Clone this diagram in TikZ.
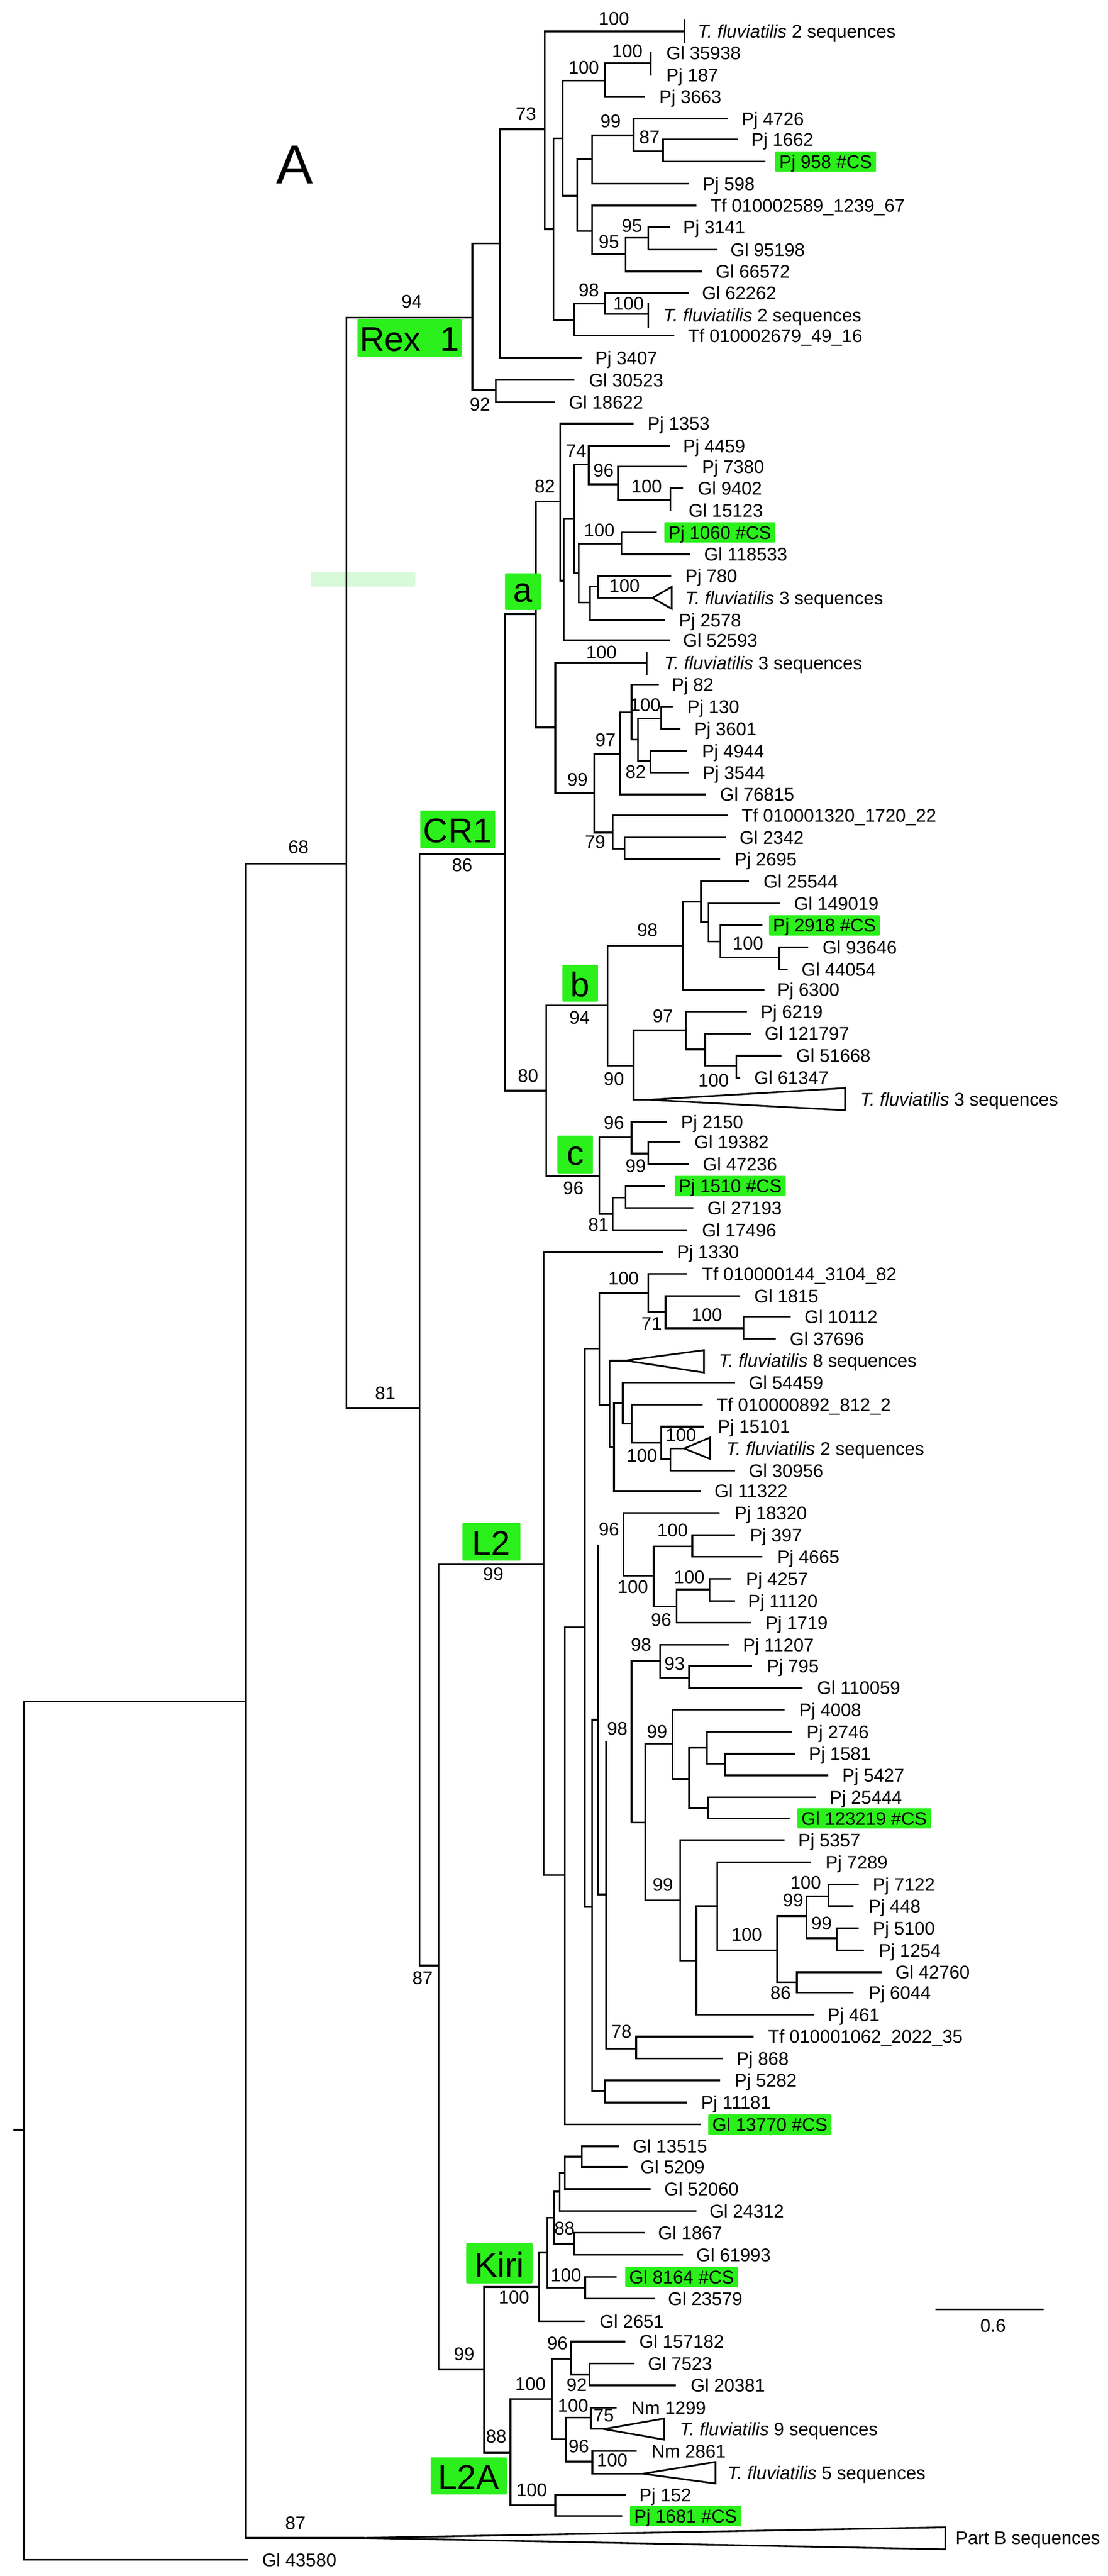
\documentclass[tikz,border=0pt]{standalone}
\usepackage{fontspec}
\setmainfont{Liberation Sans}
\definecolor{csgreen}{RGB}{43,240,27}
\definecolor{faint}{RGB}{216,250,216}
\newcommand{\tf}[1]{\textit{T. fluviatilis} #1 sequences}
\begin{document}
\begin{tikzpicture}[x=0.1cm,y=-0.1cm,
  br/.style={line width=3pt,line cap=rect},
  lf/.style={anchor=west,inner sep=0pt,text height=23pt,text depth=0pt,font=\fontsize{32}{38}\selectfont},
  bs/.style={inner sep=0pt,font=\fontsize{32}{38}\selectfont},
  cs/.style={lf,fill=csgreen,inner xsep=0.25cm,inner ysep=0.22cm,rounded corners=2pt},
  big/.style={font=\fontsize{60}{70}\selectfont},
  Z/.style={shift={(279.2,#1)},xscale=0.257,yscale=0.1285}]
\useasboundingbox (0,0) rectangle (680,1581);
% title and faint bar
\node[font=\fontsize{96}{110}\selectfont] at (180.8,101) {A};
\fill[faint,rounded corners=2pt] (191,351) rectangle (255,360);
% left part
\draw[br] (14.7,1044.2)--(14.7,1571) (8.8,1307.2)--(14.7,1307.2) (14.7,1044.2)--(150.6,1044.2) (14.7,1571)--(151.6,1571);
\node[lf] at (160.8,1571) {Gl 43580};
\draw[br] (150.6,530)--(150.6,1557.6) (150.6,530)--(212.6,530) (150.6,1557.6)--(222.9,1557.6);
\draw[br,line join=miter] (222.9,1557.6)--(580.3,1551.1)--(580.3,1564.6)--cycle;
\node[lf] at (586.5,1557.6) {Part B sequences};
\node[bs] at (181.4,1548.4) {87};
\draw[br] (212.6,195)--(212.6,864.3) (212.6,195)--(290,195) (290,149.4)--(290,239.4) (290,149.4)--(307,149.4);
\draw[br] (212.6,864.3)--(257.6,864.3) (257.6,524)--(257.6,1206.3) (257.6,524)--(310,524) (310,376.9)--(310,669.4) (310,376.9)--(328.8,376.9) (310,669.4)--(335.2,669.4);
\draw[br] (328.8,307.8)--(328.8,446.5);
\draw[br] (257.6,1206.3)--(269.3,1206.3) (269.3,960.2)--(269.3,1454.3) (269.3,960.2)--(333.7,960.2) (269.3,1454.3)--(297.2,1454.3) (297.2,1403.6)--(297.2,1505.4) (297.2,1505.4)--(313.3,1505.4) (313.3,1472.4)--(313.3,1537.6);
\node[bs] at (252.8,185) {94};
\node[bs] at (183.2,520) {68};
\node[bs] at (283.7,531) {86};
\node[bs] at (236.5,855.1) {81};
\node[bs] at (259.4,1214) {87};
\node[bs] at (302.8,966.1) {99};
% clade boxes
\foreach \a/\b/\c/\d/\t in {219.4/196/283.3/219/Rex\ \ 1, 258/497.5/304/520.6/CR1, 310/351.8/332/374.3/a, 345.2/592.1/367.1/614.8/b, 342.2/697/364/720.2/c, 283.8/934.6/319.5/957.8/L2, 286.2/1376.7/326.9/1401.4/Kiri, 264.4/1508.1/311.1/1530.9/L2A}
  {\fill[csgreen,rounded corners=2pt] (\a,\b) rectangle (\c,\d);
   \node[big] at ({(\a+\c)/2},{(\b+\d)/2+0.8}) {\t};}
% L2 long verticals
\draw[br] (333.7,768.4)--(333.7,1150.9) (333.7,1150.9)--(346.8,1150.9) (346.8,998.6)--(346.8,1303.9) (346.8,998.6)--(358.9,998.6)
  (358.9,827.7)--(358.9,1170.2) (358.9,827.7)--(367.9,827.7) (358.9,1170.2)--(363.5,1170.2) (363.5,1055.5)--(363.5,1283.4) (363.5,1055.5)--(367.1,1055.5)
  (367.1,948.5)--(367.1,1162.7) (367.1,1162.7)--(372.2,1162.7) (372.2,1069)--(372.2,1257.3);
% ---------- Z1
\begin{scope}[Z=0]
\draw[br] (108,618)--(215,618) (215,150)--(215,1095) (215,150)--(548,150) (548,98)--(548,200)
 (108,618)--(108,1710) (215,1095)--(236,1095) (236,660)--(236,1528) (236,660)--(258,660) (236,1528)--(285,1528)
 (258,385)--(258,935) (258,385)--(358,385) (358,302)--(358,463) (358,302)--(468,302) (468,252)--(468,358) (358,463)--(452,463)
 (258,935)--(292,935) (292,760)--(292,1103) (292,760)--(328,760) (328,647)--(328,877) (328,647)--(427,647) (427,568)--(427,722) (427,568)--(650,568) (427,722)--(497,722) (497,666)--(497,772) (497,666)--(673,666) (497,772)--(740,772) (328,877)--(557,877)
 (292,1103)--(328,1103) (328,982)--(328,1213) (328,982)--(575,982) (328,1213)--(408,1213) (408,1135)--(408,1297) (408,1135)--(462,1135) (462,1085)--(462,1192) (462,1085)--(512,1085) (462,1192)--(625,1192) (408,1297)--(588,1297)
 (285,1450)--(285,1603) (285,1450)--(358,1450) (358,1400)--(358,1500) (358,1400)--(557,1400) (358,1500)--(462,1500) (462,1450)--(462,1560) (285,1603)--(522,1603);
\node[lf] at (580,150) {\tf{2}};
\node[lf] at (505,252) {Gl 35938};
\node[lf] at (505,358) {Pj 187};
\node[lf] at (488,463) {Pj 3663};
\node[lf] at (685,568) {Pj 4726};
\node[lf] at (708,666) {Pj 1662};
\node[cs] at (765,772) {Pj 958 \#CS};
\node[lf] at (592,877) {Pj 598};
\node[lf] at (610,982) {Tf 010002589\_1239\_67};
\node[lf] at (545,1085) {Pj 3141};
\node[lf] at (658,1192) {Gl 95198};
\node[lf] at (623,1297) {Gl 66572};
\node[lf] at (590,1400) {Gl 62262};
\node[lf] at (498,1505) {\tf{2}};
\foreach \p/\t in {{(380,88)}/100,{(412,245)}/100,{(308,322)}/100,{(170,545)}/73,{(372,580)}/99,{(465,655)}/87,{(423,1078)}/95,{(368,1155)}/95,{(320,1385)}/98,{(415,1450)}/100}
  \node[bs] at \p {\t};
\end{scope}
% ---------- Z2
\begin{scope}[Z=195.7]
\draw[br] (108,187)--(300,187) (42,340)--(98,340) (98,292)--(98,398) (98,292)--(283,292) (98,398)--(237,398)
 (193,872)--(252,872) (252,500)--(252,1250) (252,500)--(425,500) (252,1250)--(260,1250) (260,955)--(260,1535) (260,955)--(285,955) (260,1535)--(512,1535)
 (285,695)--(285,1215) (285,695)--(320,695) (320,607)--(320,790) (320,607)--(512,607) (320,790)--(390,790) (390,705)--(390,865) (390,705)--(553,705) (390,865)--(515,865) (515,808)--(515,915) (515,808)--(543,808)
 (285,1215)--(296,1215) (296,1075)--(296,1355) (296,1075)--(398,1075) (398,1020)--(398,1125) (398,1020)--(480,1020) (398,1125)--(560,1125)
 (296,1355)--(323,1355) (323,1278)--(323,1440) (323,1278)--(342,1278) (342,1228)--(342,1333) (342,1228)--(515,1228) (342,1333)--(472,1333) (323,1440)--(500,1440);
\draw[br,line join=miter] (472,1333)--(518,1280)--(518,1385)--cycle;
\node[lf] at (557,80) {Tf 010002679\_49\_16};
\node[lf] at (335,187) {Pj 3407};
\node[lf] at (320,292) {Gl 30523};
\node[lf] at (272,398) {Gl 18622};
\node[lf] at (460,500) {Pj 1353};
\node[lf] at (545,607) {Pj 4459};
\node[lf] at (590,705) {Pj 7380};
\node[lf] at (580,808) {Gl 9402};
\node[lf] at (558,915) {Gl 15123};
\node[cs] at (500,1020) {Pj 1060 \#CS};
\node[lf] at (595,1125) {Gl 118533};
\node[lf] at (550,1228) {Pj 780};
\node[lf] at (550,1333) {\tf{3}};
\node[lf] at (535,1440) {Pj 2578};
\node[lf] at (545,1535) {Gl 52593};
\foreach \p/\t in {{(60,410)}/92,{(215,800)}/82,{(290,630)}/74,{(355,725)}/96,{(458,800)}/100,{(345,1010)}/100,{(405,1275)}/100}
  \node[bs] at \p {\t};
\end{scope}
% ---------- Z3
\begin{scope}[Z=391.5]
\draw[br] (193,428)--(240,428) (240,120)--(240,742) (240,120)--(458,120) (458,70)--(458,175)
 (240,742)--(333,742) (333,555)--(333,930) (333,555)--(395,555) (395,355)--(395,748) (395,355)--(422,355) (422,222)--(422,485) (422,222)--(485,222) (422,485)--(437,485) (437,385)--(437,588) (437,385)--(493,385) (493,328)--(493,435) (493,328)--(518,328) (493,435)--(537,435) (437,588)--(467,588) (467,540)--(467,643) (467,540)--(553,540) (467,643)--(557,643) (395,748)--(597,748)
 (333,930)--(377,930) (377,848)--(377,1008) (377,848)--(650,848) (377,1008)--(405,1008) (405,953)--(405,1057) (405,953)--(645,953) (405,1057)--(632,1057)
 (365,1470)--(545,1470) (545,1260)--(545,1680) (545,1680)--(737,1680) (545,1260)--(588,1260) (588,1162)--(588,1358) (588,1162)--(700,1162) (588,1358)--(606,1358) (606,1268)--(606,1450) (606,1268)--(775,1268) (606,1450)--(634,1450) (634,1373)--(634,1527) (634,1373)--(733,1373) (634,1527)--(775,1527) (775,1477)--(775,1583) (775,1477)--(842,1477) (775,1583)--(793,1583);
\node[lf] at (500,120) {\tf{3}};
\node[lf] at (518,222) {Pj 82};
\node[lf] at (555,328) {Pj 130};
\node[lf] at (572,435) {Pj 3601};
\node[lf] at (590,540) {Pj 4944};
\node[lf] at (592,643) {Pj 3544};
\node[lf] at (633,748) {Gl 76815};
\node[lf] at (685,848) {Tf 010001320\_1720\_22};
\node[lf] at (680,953) {Gl 2342};
\node[lf] at (668,1057) {Pj 2695};
\node[lf] at (737,1162) {Gl 25544};
\node[lf] at (810,1268) {Gl 149019};
\node[cs] at (750,1373) {Pj 2918 \#CS};
\node[lf] at (878,1477) {Gl 93646};
\node[lf] at (828,1583) {Gl 44054};
\foreach \p/\t in {{(350,70)}/100,{(455,320)}/100,{(360,488)}/97,{(432,640)}/82,{(293,678)}/99,{(335,975)}/79,{(460,1395)}/98,{(700,1460)}/100}
  \node[bs] at \p {\t};
\end{scope}
% ---------- Z4
\begin{scope}[Z=587.2]
\draw[br] (218,233)--(365,233) (365,-53)--(365,520) (365,520)--(427,520) (427,352)--(427,683) (427,352)--(552,352) (552,262)--(552,443) (552,262)--(695,262) (552,443)--(598,443) (598,367)--(598,520) (598,367)--(705,367) (598,520)--(672,520) (672,472)--(672,578) (672,472)--(778,472) (672,578)--(680,578) (427,683)--(465,683)
 (218,233)--(218,1047) (218,1047)--(345,1047) (345,862)--(345,1228) (345,862)--(422,862) (422,788)--(422,940) (422,788)--(505,788) (422,940)--(462,940) (462,885)--(462,990) (462,885)--(537,885) (462,990)--(557,990) (345,1228)--(377,1228) (377,1150)--(377,1305) (377,1150)--(408,1150) (408,1095)--(408,1200) (408,1095)--(500,1095) (408,1200)--(568,1200) (377,1305)--(553,1305)
 (212,1410)--(495,1410) (462,1515)--(553,1515);
\draw[br,line join=miter] (465,683)--(932,627)--(932,733)--cycle;
\node[lf] at (770,157) {Pj 6300};
\node[lf] at (730,262) {Pj 6219};
\node[lf] at (740,367) {Gl 121797};
\node[lf] at (815,472) {Gl 51668};
\node[lf] at (715,578) {Gl 61347};
\node[lf] at (968,680) {\tf{3}};
\node[lf] at (540,788) {Pj 2150};
\node[lf] at (572,885) {Gl 19382};
\node[lf] at (592,990) {Gl 47236};
\node[cs] at (525,1095) {Pj 1510 \#CS};
\node[lf] at (603,1200) {Gl 27193};
\node[lf] at (590,1305) {Gl 17496};
\node[lf] at (530,1410) {Pj 1330};
\node[lf] at (590,1515) {Tf 010000144\_3104\_82};
\foreach \p/\t in {{(298,290)}/94,{(497,283)}/97,{(380,583)}/90,{(618,590)}/100,{(175,568)}/80,{(380,793)}/96,{(432,1000)}/99,{(283,1105)}/96,{(343,1280)}/81,{(403,1535)}/100}
  \node[bs] at \p {\t};
\end{scope}
% ---------- Z5
\begin{scope}[Z=783]
\draw[br] (345,83)--(345,617) (345,83)--(462,83) (462,-9)--(462,173) (462,173)--(503,173) (503,97)--(503,250) (503,97)--(680,97) (503,250)--(690,250) (690,195)--(690,300) (690,195)--(800,195) (690,300)--(765,300)
 (345,617)--(370,617) (370,405)--(370,818) (370,405)--(408,405) (370,818)--(380,818) (380,608)--(380,1028) (380,608)--(401,608) (401,510)--(401,706) (401,510)--(667,510) (401,706)--(423,706) (423,615)--(423,797) (423,615)--(590,615) (423,797)--(493,797) (493,720)--(493,875) (493,720)--(593,720) (493,875)--(515,875) (515,825)--(515,930) (515,825)--(548,825) (515,930)--(667,930) (380,1028)--(585,1028)
 (403,1133)--(403,1433) (403,1133)--(630,1133) (403,1433)--(475,1433) (475,1293)--(475,1580) (475,1293)--(567,1293) (567,1238)--(567,1342) (567,1238)--(667,1238) (567,1342)--(733,1342) (475,1580)--(530,1580) (530,1498)--(530,1656) (530,1498)--(608,1498) (608,1448)--(608,1553) (608,1448)--(658,1448) (608,1553)--(667,1553) (530,1656)--(705,1656);
\draw[br,line join=miter] (408,405)--(595,355)--(595,462)--cycle;
\draw[br,line join=miter] (548,825)--(610,772)--(610,875)--cycle;
\node[lf] at (715,97) {Gl 1815};
\node[lf] at (835,195) {Gl 10112};
\node[lf] at (800,300) {Gl 37696};
\node[lf] at (630,405) {\tf{8}};
\node[lf] at (702,510) {Gl 54459};
\node[lf] at (625,615) {Tf 010000892\_812\_2};
\node[lf] at (628,720) {Pj 15101};
\node[lf] at (648,825) {\tf{2}};
\node[lf] at (702,930) {Gl 30956};
\node[lf] at (620,1028) {Gl 11322};
\node[lf] at (668,1133) {Pj 18320};
\node[lf] at (705,1238) {Pj 397};
\node[lf] at (770,1342) {Pj 4665};
\node[lf] at (695,1448) {Pj 4257};
\node[lf] at (700,1553) {Pj 11120};
\foreach \p/\t in {{(470,228)}/71,{(602,188)}/100,{(540,760)}/100,{(447,858)}/100,{(368,1210)}/96,{(520,1215)}/100,{(425,1487)}/100,{(560,1440)}/100}
  \node[bs] at \p {\t};
\end{scope}
% ---------- Z6
\begin{scope}[Z=978.7]
\draw[br] (422,317)--(422,1088) (422,317)--(490,317) (490,240)--(490,397) (490,240)--(652,240) (490,397)--(560,397) (560,340)--(560,445) (560,340)--(708,340) (560,445)--(828,445)
 (422,1088)--(455,1088) (455,712)--(455,1460) (455,712)--(520,712) (520,550)--(520,880) (520,550)--(785,550) (520,880)--(560,880) (560,732)--(560,1020) (560,732)--(602,732) (602,655)--(602,808) (602,655)--(803,655) (602,808)--(645,808) (645,760)--(645,863) (645,760)--(810,760) (645,863)--(890,863) (560,1020)--(605,1020) (605,968)--(605,1068) (605,968)--(860,968) (605,1068)--(798,1068)
 (455,1460)--(538,1460) (538,1172)--(538,1748) (538,1172)--(785,1172) (538,1748)--(577,1748) (577,1488)--(577,2006) (577,1488)--(627,1488) (627,1278)--(627,1698) (627,1278)--(848,1278) (627,1698)--(770,1698) (770,1535)--(770,1851) (770,1535)--(840,1535) (840,1440)--(840,1641) (840,1440)--(893,1440) (893,1383)--(893,1488) (893,1383)--(962,1383) (893,1488)--(950,1488) (840,1641)--(912,1641) (912,1593)--(912,1698) (912,1593)--(962,1593) (912,1698)--(975,1698) (770,1851)--(817,1851) (817,1803)--(817,1901) (817,1803)--(1018,1803) (817,1901)--(950,1901) (577,2006)--(857,2006);
\node[lf] at (742,133) {Pj 1719};
\node[lf] at (688,240) {Pj 11207};
\node[lf] at (745,340) {Pj 795};
\node[lf] at (865,445) {Gl 110059};
\node[lf] at (822,550) {Pj 4008};
\node[lf] at (840,655) {Pj 2746};
\node[lf] at (845,760) {Pj 1581};
\node[lf] at (925,863) {Pj 5427};
\node[lf] at (895,968) {Pj 25444};
\node[cs] at (818,1068) {Gl 123219 \#CS};
\node[lf] at (820,1172) {Pj 5357};
\node[lf] at (885,1278) {Pj 7289};
\node[lf] at (998,1383) {Pj 7122};
\node[lf] at (988,1488) {Pj 448};
\foreach \p/\t in {{(493,120)}/96,{(445,238)}/98,{(525,330)}/93,{(388,640)}/98,{(483,655)}/99,{(497,1385)}/99,{(838,1375)}/100,{(808,1460)}/99}
  \node[bs] at \p {\t};
\end{scope}
% ---------- Z7
\begin{scope}[Z=1174.4]
\draw[br] (362,645)--(433,645) (433,588)--(433,692) (433,588)--(712,588) (433,692)--(638,692) (328,848)--(358,848) (358,797)--(358,903) (358,797)--(632,797) (358,903)--(553,903) (263,1008)--(585,1008);
\node[lf] at (998,70) {Pj 5100};
\node[lf] at (1012,175) {Pj 1254};
\node[lf] at (1052,280) {Gl 42760};
\node[lf] at (988,378) {Pj 6044};
\node[lf] at (890,483) {Pj 461};
\node[lf] at (748,588) {Tf 010001062\_2022\_35};
\node[lf] at (673,692) {Pj 868};
\node[lf] at (668,797) {Pj 5282};
\node[lf] at (588,903) {Pj 11181};
\node[cs] at (605,1008) {Gl 13770 \#CS};
\foreach \p/\t in {{(876,48)}/99,{(697,100)}/100,{(778,380)}/86,{(398,565)}/78,{(262,1505)}/88}
  \node[bs] at \p {\t};
\end{scope}
% ---------- Kiri and L2A (display coords)
\draw[br] (357.1,1317.3)--(357.1,1329.9) (357.1,1317.3)--(379.4,1317.3) (357.1,1329.9)--(384.6,1329.9)
 (346.8,1323.6)--(357.1,1323.6) (346.8,1323.6)--(346.8,1343.5) (346.8,1343.5)--(398.7,1343.5)
 (343.5,1333.5)--(346.8,1333.5) (343.5,1333.5)--(343.5,1356.9) (343.5,1356.9)--(427,1356.9)
 (340,1345.1)--(343.5,1345.1) (340,1345.1)--(340,1377) (340,1377)--(352.5,1377) (352.5,1370.2)--(352.5,1383.9) (352.5,1370.2)--(395.4,1370.2) (352.5,1383.9)--(418.6,1383.9)
 (336,1361.1)--(340,1361.1) (336,1361.1)--(336,1404.1) (336,1404.1)--(359.2,1404.1) (359.2,1397.4)--(359.2,1410.8) (359.2,1397.4)--(378,1397.4) (359.2,1410.8)--(401.2,1410.8)
 (330.8,1382.6)--(336,1382.6) (330.8,1382.6)--(330.8,1424.7) (330.8,1424.7)--(358.3,1424.7) (297.2,1403.6)--(330.8,1403.6);
\node[lf] at (388.4,1317.3) {Gl 13515};
\node[lf] at (393.1,1329.9) {Gl 5209};
\node[lf] at (407.7,1343.5) {Gl 52060};
\node[lf] at (435.5,1356.9) {Gl 24312};
\node[lf] at (403.9,1370.2) {Gl 1867};
\node[lf] at (427.4,1383.9) {Gl 61993};
\node[cs] at (383.7,1397.4) {Gl 8164 \#CS};
\node[lf] at (410,1410.8) {Gl 23579};
\node[lf] at (368,1424.7) {Gl 2651};
\node[bs] at (347.4,1396.4) {100};
\node[bs] at (315.5,1409.9) {100};
\node[bs] at (284.9,1444.8) {99};
\node[bs] at (304.6,1495.3) {88};
\draw[br] (313.3,1472.4)--(338.7,1472.4) (338.7,1447.8)--(338.7,1497) (338.7,1447.8)--(350.5,1447.8) (350.5,1437.1)--(350.5,1457.6) (350.5,1437.1)--(383.2,1437.1) (350.5,1457.6)--(361.8,1457.6) (361.8,1450.5)--(361.8,1464) (361.8,1450.5)--(389,1450.5) (361.8,1464)--(414.3,1464)
 (338.7,1497)--(347.4,1497) (347.4,1483.8)--(347.4,1510.8) (347.4,1483.8)--(362.7,1483.8) (362.7,1477.8)--(362.7,1490.8) (362.7,1477.8)--(378,1477.8) (362.7,1490.8)--(370.6,1490.8)
 (347.4,1510.8)--(363.6,1510.8) (363.6,1504.4)--(363.6,1518.2) (363.6,1504.4)--(390.2,1504.4) (363.6,1518.2)--(394.6,1518.2)
 (313.3,1537.6)--(340.9,1537.6) (340.9,1531.3)--(340.9,1544.1) (340.9,1531.3)--(383.7,1531.3) (340.9,1544.1)--(381.5,1544.1);
\draw[br,line join=miter] (370.6,1490.8)--(407.7,1484.3)--(407.7,1497.3)--cycle;
\draw[br,line join=miter] (394.6,1518.2)--(439.2,1511)--(439.2,1524.2)--cycle;
\node[lf] at (392.4,1437.1) {Gl 157182};
\node[lf] at (397.7,1450.5) {Gl 7523};
\node[lf] at (423.9,1464) {Gl 20381};
\node[lf] at (387.6,1477.8) {Nm 1299};
\node[lf] at (417.3,1490.8) {\tf{9}};
\node[lf] at (399.9,1504.4) {Nm 2861};
\node[lf] at (446.6,1517.6) {\tf{5}};
\node[lf] at (392.4,1531.3) {Pj 152};
\node[cs] at (386.7,1544.1) {Pj 1681 \#CS};
\foreach \p/\t in {{(342.2,1438.1)}/96,{(354,1463.7)}/92,{(325.6,1463)}/100,{(351.8,1476.5)}/100,{(370.6,1482.5)}/75,{(355.3,1501.3)}/96,{(375.8,1510)}/100,{(326.4,1528.2)}/100}
  \node[bs] at \p {\t};
% scale bar
\draw[br] (574.7,1417.3)--(640.2,1417.3);
\node[bs] at (609.6,1427.4) {0.6};
\end{tikzpicture}
\end{document}
